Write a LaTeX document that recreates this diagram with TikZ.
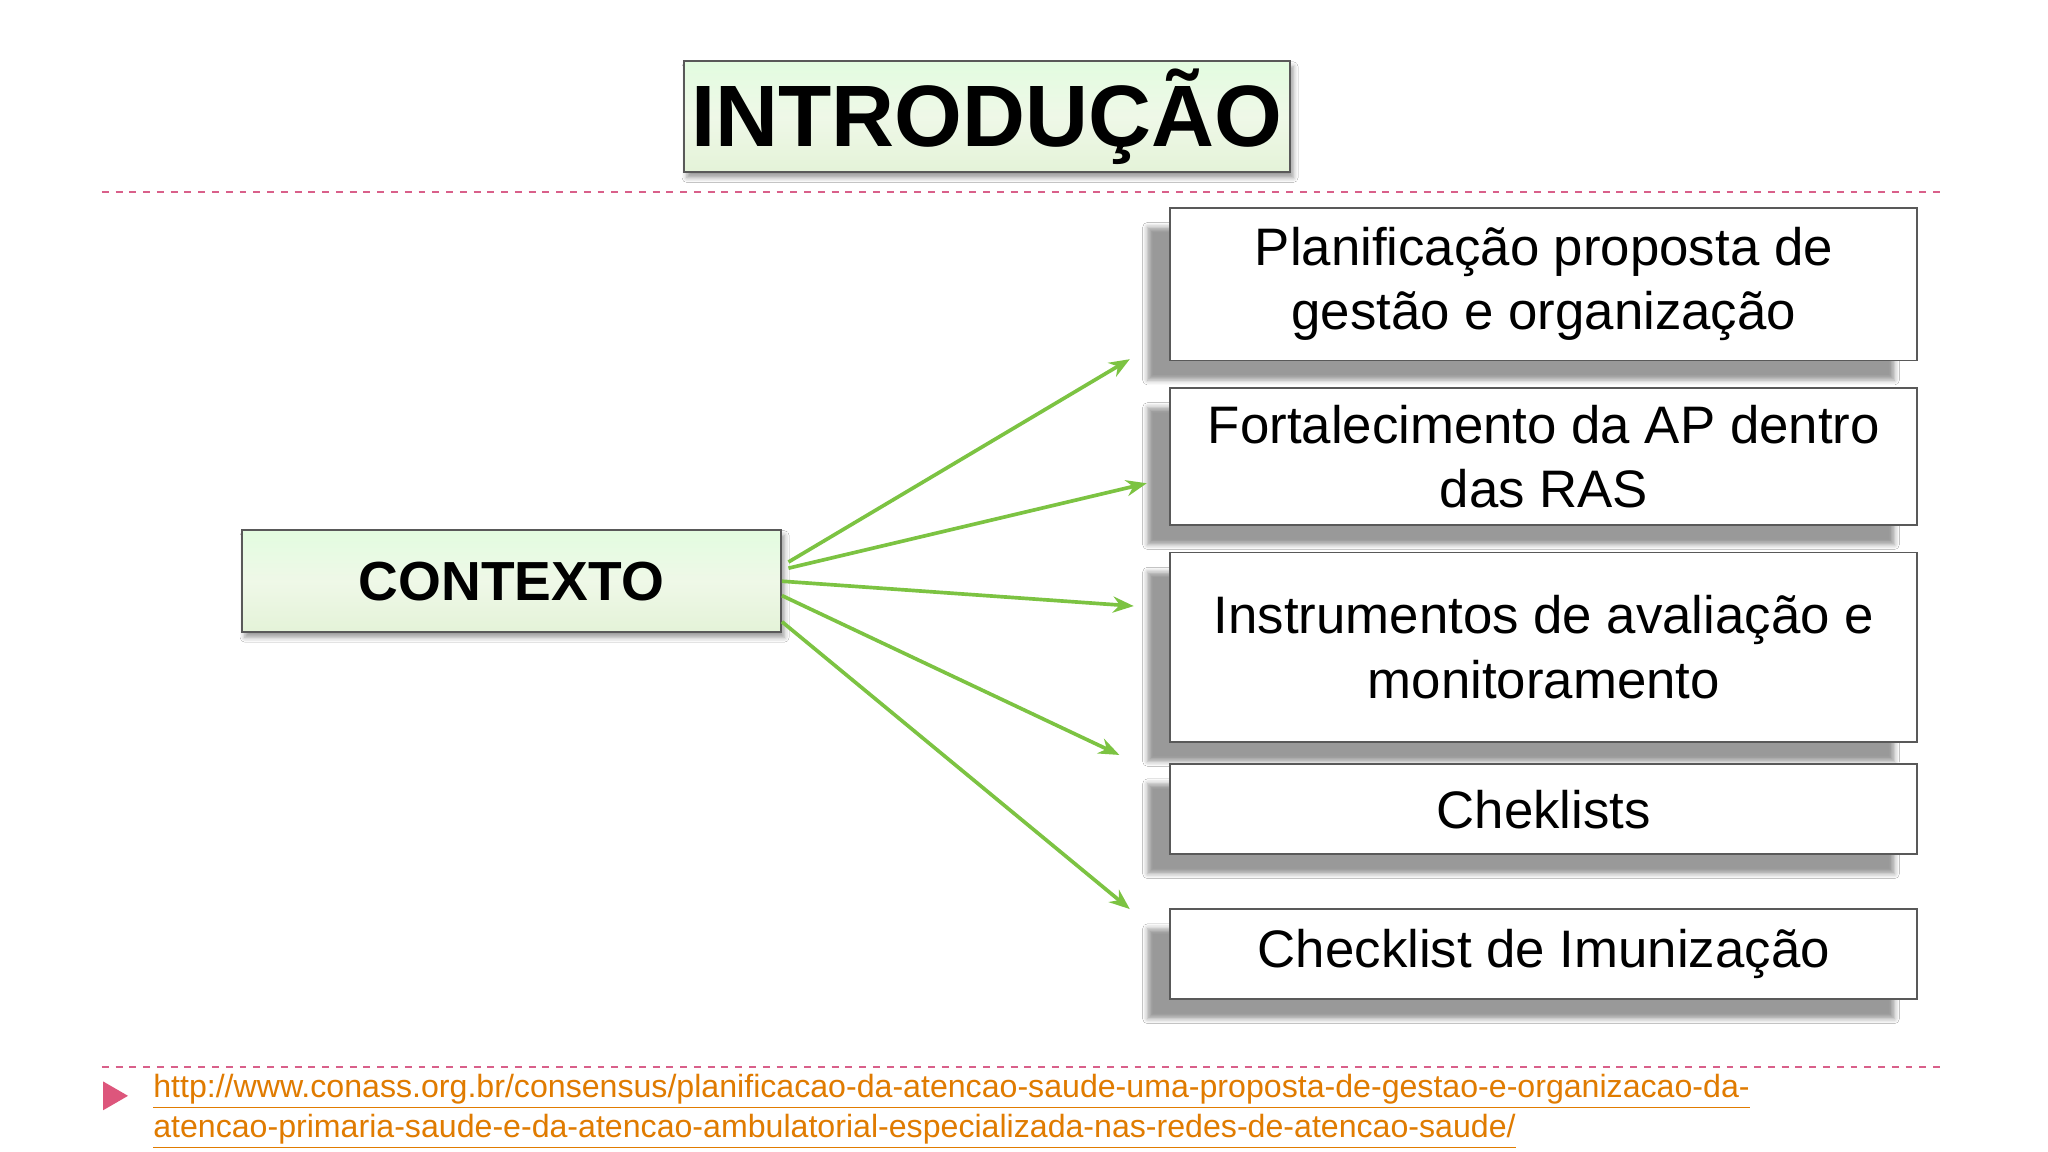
\documentclass[tikz,border=0pt]{standalone}
\usepackage{fontspec}
\setmainfont{Liberation Sans}
\usetikzlibrary{shadows.blur,arrows.meta}
\definecolor{gfill}{HTML}{E4F3D8}
\definecolor{garr}{HTML}{7CC342}
\definecolor{pinkd}{HTML}{D9608A}
\definecolor{linkc}{HTML}{E07B00}
\tikzset{
 px/.style={x=0.02cm,y=-0.02cm},
 rbox/.style={draw=gray!70!black,fill=white,line width=0.8pt,minimum width=11.44cm,align=center,font=\fontsize{23}{28}\selectfont,blur shadow={shadow xshift=-0.35cm,shadow yshift=-0.3cm,shadow opacity=40}},
 gbox/.style={draw=gray!70!black,line width=0.8pt,top color=gfill!70!green!30,bottom color=gfill,middle color=gfill!60,blur shadow={shadow xshift=0.05cm,shadow yshift=-0.08cm,shadow opacity=40}},
 arr/.style={garr,line width=1.6pt,-{Stealth[length=9pt,width=7pt]}},
 dline/.style={pinkd,dashed,line width=0.7pt}
}
\begin{document}
\begin{tikzpicture}[px]
\useasboundingbox[fill=white] (0,0) rectangle (1568,882);
\node[gbox,minimum width=8.58cm,minimum height=1.66cm,font=\fontsize{38}{40}\selectfont\bfseries] (title) at (755.5,89.5) {INTRODUÇÃO};
\draw[dline] (78,147) -- (1490,147);
\draw[dline] (78,817) -- (1490,817);
\node[gbox,minimum width=8.26cm,minimum height=1.56cm,font=\fontsize{24}{26}\selectfont\bfseries] (ctx) at (391.5,445) {CONTEXTO};
\node[rbox,minimum height=2.34cm] (b1) at (1182,217.5) {Planificação proposta de\\gestão e organização};
\node[rbox,minimum height=2.10cm] (b2) at (1182,349.5) {Fortalecimento da AP dentro\\das RAS};
\node[rbox,minimum height=2.90cm] (b3) at (1182,495.5) {Instrumentos de avaliação e\\monitoramento};
\node[rbox,minimum height=1.38cm] (b4) at (1182,619.5) {Cheklists};
\node[rbox,minimum height=1.38cm] (b5) at (1182,730.5) {Checklist de Imunização};
\coordinate (t1) at (865,275);
\coordinate (t2) at (878,370);
\coordinate (t3) at (868,464);
\coordinate (t4) at (857,578);
\coordinate (t5) at (865,696);
\draw[arr] ([yshift=-0.5cm]ctx.north east) ++(0.1cm,0) -- (t1);
\draw[arr] ([yshift=0.2cm]ctx.east) ++(0.1cm,0) -- (t2);
\draw[arr] (ctx.east) -- (t3);
\draw[arr] ([yshift=-0.22cm]ctx.east) -- (t4);
\draw[arr] ([yshift=-0.62cm]ctx.east) -- (t5);
\fill[pinkd!90!red] (79,828) -- (98,839) -- (79,850) -- cycle;
\node[anchor=north west,align=left,text=linkc,font=\fontsize{14}{17.6}\selectfont,inner sep=0pt] (url) at (117,822) {\underline{http://www.conass.org.br/consensus/planificacao-da-atencao-saude-uma-proposta-de-gestao-e-organizacao-da-}\\\underline{atencao-primaria-saude-e-da-atencao-ambulatorial-especializada-nas-redes-de-atencao-saude/}};
\end{tikzpicture}
\end{document}
